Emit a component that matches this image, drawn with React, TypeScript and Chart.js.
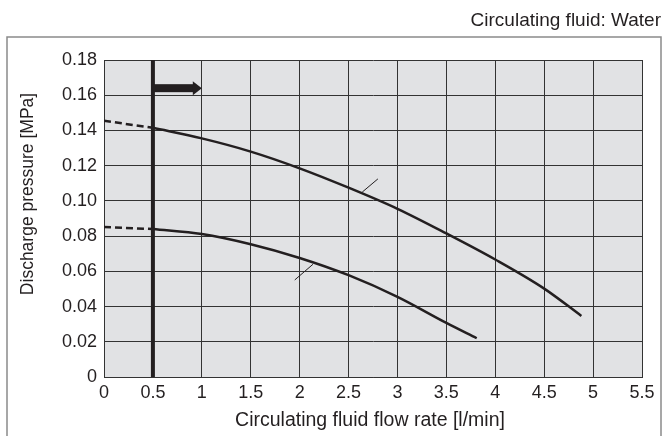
import React, { useEffect, useRef } from "react";
import { Chart, registerables } from "chart.js";

Chart.register(...registerables);

const TITLE = "Circulating fluid: Water";
const X_TITLE = "Circulating fluid flow rate [l/min]";
const Y_TITLE = "Discharge pressure [MPa]";

const X_TICKS = [0, 0.5, 1, 1.5, 2, 2.5, 3, 3.5, 4, 4.5, 5, 5.5];
const X_LABELS = ["0", "0.5", "1", "1.5", "2", "2.5", "3", "3.5", "4", "4.5", "5", "5.5"];
const Y_TICKS = [0, 0.02, 0.04, 0.06, 0.08, 0.1, 0.12, 0.14, 0.16, 0.18];
const Y_LABELS = ["0", "0.02", "0.04", "0.06", "0.08", "0.10", "0.12", "0.14", "0.16", "0.18"];

// Upper curve
const upperDashX = [0, 0.5];
const upperDashY = [0.1455, 0.1415];
const upperX = [0.5, 1, 1.5, 2, 2.5, 3, 3.5, 4, 4.5, 4.88];
const upperY = [0.1415, 0.1355, 0.128, 0.1185, 0.1075, 0.0955, 0.0815, 0.0667, 0.0502, 0.0347];

// Lower curve
const lowerDashX = [0, 0.5];
const lowerDashY = [0.0852, 0.084];
const lowerX = [0.5, 1, 1.5, 2, 2.5, 3, 3.5, 3.81];
const lowerY = [0.084, 0.0812, 0.0754, 0.0676, 0.0578, 0.0455, 0.0307, 0.022];

// Minimum flow line and arrow
const limitX = [0.5, 0.5];
const limitY = [0, 0.18];
const arrowX = [0.5, 1.0];
const arrowY = 0.164;

// Leader lines
const leaderUpperX = [2.64, 2.8];
const leaderUpperY = [0.105, 0.1125];
const leaderLowerX = [1.95, 2.136];
const leaderLowerY = [0.0551, 0.064];

const INK = "#231f20";
const FONT = "'Liberation Sans', Arial, Helvetica, sans-serif";

const pts = (xs: number[], ys: number[]) => xs.map((x, i) => ({ x, y: ys[i] }));

const decorPlugin = {
  id: "decor",
  beforeDraw(chart: any) {
    const { ctx, chartArea } = chart;
    ctx.save();
    ctx.fillStyle = "#ffffff";
    ctx.fillRect(0, 0, chart.width, chart.height);
    ctx.fillStyle = "#e1e2e4";
    ctx.fillRect(chartArea.left, chartArea.top, chartArea.right - chartArea.left, chartArea.bottom - chartArea.top);
    // outer frame
    ctx.strokeStyle = "#8a8a8a";
    ctx.lineWidth = 1.5;
    ctx.strokeRect(7, 37, 654, 420);
    ctx.restore();
  },
  afterDatasetsDraw(chart: any) {
    const { ctx } = chart;
    const xs = chart.scales.x;
    const ys = chart.scales.y;
    const x0 = xs.getPixelForValue(arrowX[0]);
    const x1 = xs.getPixelForValue(arrowX[1]);
    const y = ys.getPixelForValue(arrowY);
    ctx.save();
    ctx.fillStyle = INK;
    const head = 9;
    ctx.fillRect(x0, y - 4, x1 - x0 - head + 1, 8);
    ctx.beginPath();
    ctx.moveTo(x1 - head, y - 7);
    ctx.lineTo(x1, y);
    ctx.lineTo(x1 - head, y + 7);
    ctx.closePath();
    ctx.fill();
    ctx.restore();
  },
  afterDraw(chart: any) {
    const { ctx, chartArea } = chart;
    ctx.save();
    ctx.fillStyle = INK;
    ctx.textBaseline = "alphabetic";
    ctx.font = `19px ${FONT}`;
    ctx.textAlign = "right";
    ctx.fillText(TITLE, 661, 26);
    ctx.textAlign = "center";
    ctx.textBaseline = "middle";
    ctx.font = `19.5px ${FONT}`;
    ctx.fillText(X_TITLE, (chartArea.left + chartArea.right) / 2 - 3, 421);
    ctx.translate(28, 194);
    ctx.rotate(-Math.PI / 2);
    ctx.font = `17.5px ${FONT}`;
    ctx.fillText(Y_TITLE, 0, 0);
    ctx.restore();
  },
};

export default function App() {
  const ref = useRef<HTMLCanvasElement | null>(null);

  useEffect(() => {
    document.body.style.margin = "0";
    const canvas = ref.current;
    if (!canvas) return;
    const lineBase = { pointRadius: 0, pointHoverRadius: 0, fill: false, borderColor: INK };
    const chart = new Chart(canvas, {
      type: "line",
      data: {
        datasets: [
          { ...lineBase, data: pts(limitX, limitY), borderWidth: 4, tension: 0 },
          { ...lineBase, data: pts(upperDashX, upperDashY), borderWidth: 2.5, borderDash: [7, 4], tension: 0 },
          { ...lineBase, data: pts(upperX, upperY), borderWidth: 2.5, cubicInterpolationMode: "monotone" },
          { ...lineBase, data: pts(lowerDashX, lowerDashY), borderWidth: 2.5, borderDash: [7, 4], tension: 0 },
          { ...lineBase, data: pts(lowerX, lowerY), borderWidth: 2.5, cubicInterpolationMode: "monotone" },
          { ...lineBase, data: pts(leaderUpperX, leaderUpperY), borderWidth: 1, tension: 0 },
          { ...lineBase, data: pts(leaderLowerX, leaderLowerY), borderWidth: 1, tension: 0 },
        ] as any,
      },
      options: {
        responsive: false,
        animation: false,
        devicePixelRatio: 1,
        layout: { padding: { left: 0, top: 60, right: 22, bottom: 0 } },
        plugins: { legend: { display: false }, tooltip: { enabled: false }, title: { display: false } },
        events: [],
        scales: {
          x: {
            type: "linear",
            min: 0,
            max: 5.5,
            afterBuildTicks: (s: any) => {
              s.ticks = X_TICKS.map((v) => ({ value: v }));
            },
            afterFit: (s: any) => {
              s.height = 59;
              s.paddingLeft = 0;
              s.paddingRight = 0;
            },
            grid: { color: "#333333", lineWidth: 1, drawTicks: false },
            border: { display: true, color: "#333333", width: 1 },
            ticks: {
              padding: 5,
              maxRotation: 0,
              autoSkip: false,
              color: INK,
              font: { family: FONT, size: 18 },
              callback: (_v: any, i: number) => X_LABELS[i],
            },
          },
          y: {
            type: "linear",
            min: 0,
            max: 0.18,
            afterBuildTicks: (s: any) => {
              s.ticks = Y_TICKS.map((v) => ({ value: v }));
            },
            afterFit: (s: any) => {
              s.width = 104;
              s.paddingTop = 0;
              s.paddingBottom = 0;
            },
            grid: { color: "#333333", lineWidth: 1, drawTicks: false },
            border: { display: true, color: "#333333", width: 1 },
            ticks: {
              padding: 7,
              autoSkip: false,
              color: INK,
              font: { family: FONT, size: 18 },
              callback: (_v: any, i: number) => Y_LABELS[i],
            },
          },
        },
      } as any,
      plugins: [decorPlugin],
    });
    return () => chart.destroy();
  }, []);

  return (
    <div style={{ width: 664, height: 436, margin: 0 }}>
      <canvas ref={ref} width={664} height={436} style={{ display: "block" }} />
    </div>
  );
}
